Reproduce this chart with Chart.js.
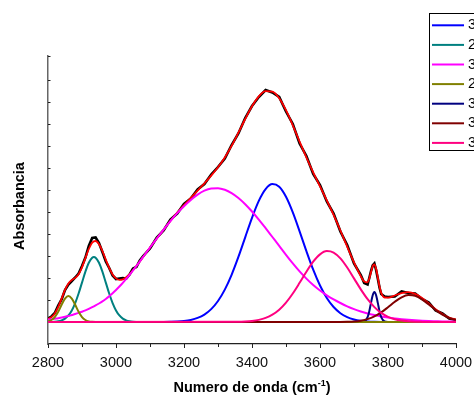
<!DOCTYPE html>
<html>
<head>
<meta charset="utf-8">
<script src="https://cdn.jsdelivr.net/npm/chart.js@4.4.0/dist/chart.umd.min.js"></script>
<style>
  html, body { margin: 0; padding: 0; background: #fff; }
  #wrap { width: 474px; height: 396px; position: relative; }
</style>
</head>
<body>
<div id="wrap"><canvas id="myChart" width="474" height="396"></canvas></div>
<script>
// measured spectrum + fit share one wavenumber grid (cm-1)
const wnFit = [2800, 2810, 2820, 2830, 2840, 2850, 2860, 2870, 2880, 2890, 2900, 2910, 2920, 2930, 2940, 2950, 2960, 2970, 2980, 2990, 3000, 3010, 3020, 3030, 3040, 3050, 3060, 3070, 3080,
  3100, 3120, 3140, 3160, 3180, 3200, 3220, 3240, 3260, 3280, 3300, 3320, 3340, 3360, 3380, 3400, 3420, 3440, 3460, 3480, 3500, 3520, 3540, 3560, 3580, 3600, 3620, 3640, 3660, 3680, 3700, 3720,
  3730, 3740, 3745, 3750, 3755, 3760, 3765, 3770, 3775, 3780, 3790, 3800,
  3820, 3840, 3860, 3880, 3900, 3920, 3940, 3960, 3980, 4000];
const measured = [3.5, 5.5, 9.0, 16.5, 22.5, 32.0, 37.5, 41.0, 44.5, 48.5, 56.0, 64.5, 76.0, 84.0, 84.5, 79.0, 70.0, 60.5, 54.0, 46.5, 43.0, 43.5, 44.0, 43.5, 47.5, 53.5, 55.0, 61.5, 66.0,
  73.5, 84.5, 91.5, 102.5, 108.5, 118.0, 123.5, 132.5, 138.0, 147.5, 155.0, 163.5, 177.0, 188.5, 204.0, 216.0, 225.0, 232.0, 229.5, 225.0, 210.5, 198.0, 178.5, 166.0, 148.0, 137.0, 120.5, 108.5, 90.5, 77.0, 58.5, 47.0,
  39.0, 37.5, 44.0, 51.0, 56.5, 58.5, 52.0, 43.5, 34.5, 28.0, 25.5, 25.0,
  25.5, 30.5, 29.0, 28.5, 23.0, 19.5, 11.5, 8.5, 3.5, 2.0];
const fitSum = [3.1, 4.9, 8.6, 14.8, 23.3, 32.1, 38.6, 42.0, 44.1, 47.8, 54.7, 63.9, 73.0, 79.3, 81.0, 77.8, 71.0, 62.4, 54.1, 47.6, 43.6, 42.1, 42.6, 44.7, 47.9, 51.8, 56.0, 60.5, 65.2,
  74.5, 83.5, 92.3, 101.1, 109.3, 116.8, 124.1, 131.4, 138.7, 146.4, 154.8, 164.6, 176.1, 189.3, 203.0, 215.7, 225.6, 230.8, 230.3, 223.8, 211.8, 196.7, 180.4, 164.5, 149.6, 135.6, 121.7, 107.1, 91.5, 75.3, 59.6, 45.8,
  40.4, 39.7, 43.5, 49.9, 55.9, 57.6, 53.2, 44.7, 35.6, 29.2, 24.5, 24.4,
  26.5, 28.9, 29.8, 28.1, 24.1, 18.5, 12.8, 8.0, 4.5, 2.4];

// fitted bands
const wn3463 = [2800, 3140, 3160, 3180, 3200, 3220, 3240, 3260, 3280, 3300, 3320, 3340, 3360, 3380, 3400, 3420, 3440, 3460, 3480, 3500, 3520, 3540, 3560, 3580, 3600, 3620, 3640, 3660, 3680, 3700, 3720, 3740, 3760, 3780, 3800, 4000];
const band3463 = [0, 0.05, 0.2, 0.47, 1.03, 2.10, 4.07, 7.44, 12.85, 20.99, 32.41, 47.24, 65.07, 84.70, 104.2, 121.1, 132.9, 137.9, 135.2, 125.2, 109.6, 90.66, 70.85, 52.32, 36.50, 24.05, 14.99, 8.82, 4.90, 2.58, 1.28, 0.60, 0.27, 0.11, 0.04, 0];

const wn2935 = [2800, 2810, 2820, 2830, 2840, 2850, 2860, 2870, 2880, 2890, 2900, 2910, 2920, 2930, 2935, 2940, 2950, 2960, 2970, 2980, 2990, 3000, 3010, 3020, 3030, 3040, 3050, 3060, 3070, 3080, 4000];
const band2935 = [0.04, 0.11, 0.29, 0.72, 1.63, 3.40, 6.55, 11.59, 18.91, 28.44, 39.42, 50.36, 59.30, 64.34, 65.0, 64.34, 59.30, 50.36, 39.42, 28.44, 18.91, 11.59, 6.55, 3.40, 1.63, 0.72, 0.29, 0.11, 0.04, 0.01, 0];

const wn3291 = [2800, 2810, 2820, 2830, 2840, 2850, 2860, 2870, 2880, 2890, 2900, 2910, 2920, 2930, 2940, 2950, 2960, 2970, 2980, 2990, 3000, 3010, 3020, 3030, 3040, 3050, 3060, 3070, 3080,
  3100, 3120, 3140, 3160, 3180, 3200, 3220, 3240, 3260, 3280, 3300, 3320, 3340, 3360, 3380, 3400, 3420, 3440, 3460, 3480, 3500, 3520, 3540, 3560, 3580, 3600, 3620, 3640, 3660, 3680, 3700,
  3720, 3740, 3760, 3780, 3800, 3820, 3840, 3860, 3880, 3900, 3920, 3940, 3960, 3980, 4000];
const band3291 = [2.4, 2.8, 3.3, 3.8, 4.5, 5.2, 6.0, 7.0, 8.0, 9.1, 10.3, 11.6, 13.1, 14.8, 16.6, 18.5, 20.6, 23.0, 25.7, 28.7, 32.0, 35.5, 39.2, 43.1, 47.2, 51.5, 55.9, 60.5, 65.2,
  74.5, 83.5, 92.3, 100.9, 108.8, 115.8, 122.0, 127.3, 131.3, 133.5, 133.8, 132.2, 128.9, 124.0, 117.8, 110.5, 102.4, 93.8, 85.0, 76.2, 67.2, 58.6, 50.6, 43.4, 37.0, 31.5, 26.7, 22.6, 19.0, 15.7, 12.9,
  10.5, 8.5, 6.9, 5.5, 4.4, 3.5, 2.8, 2.2, 1.7, 1.3, 1.0, 0.8, 0.6, 0.5, 0.4];

const wn2860 = [2800, 2810, 2820, 2830, 2840, 2850, 2860, 2870, 2880, 2890, 2900, 2910, 2920, 2930, 2940, 4000];
const band2860 = [0.63, 1.97, 4.98, 10.26, 17.20, 23.45, 26.0, 23.45, 17.20, 10.26, 4.98, 1.97, 0.63, 0.16, 0.03, 0];

const wn3760 = [2800, 3720, 3730, 3740, 3745, 3750, 3755, 3760, 3765, 3770, 3775, 3780, 3790, 3800, 4000];
const band3760 = [0, 0.02, 0.51, 4.89, 10.8, 19.1, 26.8, 30.0, 26.8, 19.1, 10.8, 4.89, 0.51, 0.02, 0];

const wn3865 = [2800, 3640, 3660, 3680, 3700, 3720, 3740, 3760, 3780, 3800, 3820, 3840, 3860, 3880, 3900, 3920, 3940, 3960, 3980, 4000];
const band3865 = [0, 0.02, 0.06, 0.20, 0.54, 1.32, 2.86, 5.54, 9.56, 14.72, 20.19, 24.68, 26.90, 26.14, 22.64, 17.49, 12.04, 7.39, 4.04, 1.97];

const wn3624 = [2800, 3360, 3380, 3400, 3420, 3440, 3460, 3480, 3500, 3520, 3540, 3560, 3580, 3600, 3620, 3640, 3660, 3680, 3700, 3720, 3740, 3760, 3780, 3800, 3820, 3840, 3860, 3880, 3900, 3920, 4000];
const band3624 = [0, 0.2, 0.47, 1.03, 2.13, 4.08, 7.35, 12.35, 19.41, 28.52, 39.16, 50.26, 60.30, 67.64, 70.9, 69.48, 63.65, 54.50, 43.62, 32.64, 22.83, 14.92, 9.12, 5.21, 2.78, 1.39, 0.65, 0.28, 0.12, 0.05, 0];

const FONT = '"Liberation Sans", Arial, sans-serif';
Chart.defaults.font.family = FONT;

function pts(xs, ys) {
  return xs.map((x, i) => ({ x: x, y: ys[i] }));
}

function band(label, xs, ys, color, order) {
  return {
    label: label,
    data: pts(xs, ys),
    borderColor: color,
    borderWidth: 2,
    pointRadius: 0,
    cubicInterpolationMode: 'monotone',
    fill: false,
    order: order,
    isBand: true,
  };
}

// axis ticks, titles and the boxed legend (cut at the right edge)
const decorations = {
  id: 'decorations',
  afterDraw(chart) {
    const { ctx, chartArea: a, scales: { x, y } } = chart;
    ctx.save();

    ctx.strokeStyle = '#222';
    ctx.lineWidth = 1;
    ctx.beginPath();
    x.ticks.forEach((t) => {
      const px = Math.round(x.getPixelForValue(t.value)) + 0.5;
      const len = t.value % 200 === 0 ? 4 : 3;
      ctx.moveTo(px, a.bottom);
      ctx.lineTo(px, a.bottom + len);
    });
    y.ticks.forEach((t) => {
      if (t.value <= 0 || t.value > y.max) return;
      const py = Math.round(y.getPixelForValue(t.value)) + 0.5;
      ctx.moveTo(a.left, py);
      ctx.lineTo(a.left + 2.5, py);
    });
    ctx.stroke();

    // x title with superscript
    ctx.fillStyle = '#000';
    const big = 'bold 14.5px ' + FONT;
    const small = 'bold 9px ' + FONT;
    const t1 = 'Numero de onda (cm', t2 = '-1', t3 = ')';
    ctx.font = big;
    const w1 = ctx.measureText(t1).width, w3 = ctx.measureText(t3).width;
    ctx.font = small;
    const w2 = ctx.measureText(t2).width;
    let sx = (a.left + a.right) / 2 - (w1 + w2 + w3) / 2;
    ctx.textBaseline = 'alphabetic';
    ctx.textAlign = 'left';
    ctx.font = big;
    ctx.fillText(t1, sx, 392);
    ctx.font = small;
    ctx.fillText(t2, sx + w1, 386);
    ctx.font = big;
    ctx.fillText(t3, sx + w1 + w2, 392);

    // y title
    ctx.save();
    ctx.translate(20, 206);
    ctx.rotate(-Math.PI / 2);
    ctx.textAlign = 'center';
    ctx.textBaseline = 'middle';
    ctx.font = big;
    ctx.fillText('Absorbancia', 0, 0);
    ctx.restore();

    // legend
    const bands = chart.data.datasets.filter((d) => d.isBand);
    ctx.fillStyle = '#fff';
    ctx.fillRect(429.5, 13.5, 60, 137);
    ctx.strokeStyle = '#000';
    ctx.lineWidth = 1;
    ctx.strokeRect(429.5, 13.5, 60, 137);
    ctx.font = '14.5px ' + FONT;
    ctx.textBaseline = 'middle';
    bands.forEach((d, i) => {
      const ly = 25.3 + i * 19.6;
      ctx.strokeStyle = d.borderColor;
      ctx.lineWidth = 2;
      ctx.beginPath();
      ctx.moveTo(432, ly);
      ctx.lineTo(464, ly);
      ctx.stroke();
      ctx.fillStyle = '#000';
      ctx.fillText(d.label, 468, ly);
    });

    ctx.restore();
  },
};

const ctx = document.getElementById('myChart').getContext('2d');
const myChart = new Chart(ctx, {
  type: 'line',
  data: {
    datasets: [
      { label: 'Datos', data: pts(wnFit, measured), borderColor: '#000', borderWidth: 2.6, pointRadius: 0, tension: 0, order: 9 },
      { label: 'Ajuste', data: pts(wnFit, fitSum), borderColor: '#ff0000', borderWidth: 1.8, pointRadius: 0, cubicInterpolationMode: 'monotone', order: 8 },
      band('3463', wn3463, band3463, '#0000ff', 7),
      band('2935', wn2935, band2935, '#008080', 6),
      band('3291', wn3291, band3291, '#ff00ff', 5),
      band('2860', wn2860, band2860, '#808000', 3),
      band('3760', wn3760, band3760, '#000080', 4),
      band('3865', wn3865, band3865, '#800000', 2),
      band('3624', wn3624, band3624, '#ff0080', 1),
    ],
  },
  options: {
    responsive: false,
    animation: false,
    layout: { padding: { left: 48, right: 18, top: 56, bottom: 0 } },
    plugins: { legend: { display: false }, tooltip: { enabled: false } },
    scales: {
      x: {
        type: 'linear',
        position: 'bottom',
        min: 2800,
        max: 4000,
        grid: { display: false, drawTicks: false },
        border: { display: true, color: '#222', width: 1.3 },
        ticks: {
          stepSize: 100,
          autoSkip: false,
          maxRotation: 0,
          padding: 10,
          color: '#111',
          font: { size: 14.5 },
          callback: (v) => (v % 200 === 0 ? String(v) : ''),
        },
        afterFit: (s) => { s.height = 52; s.paddingLeft = 0; s.paddingRight = 0; },
      },
      y: {
        type: 'linear',
        min: -22,
        max: 266,
        grid: { display: false, drawTicks: false },
        border: { display: true, color: '#666', width: 1.5 },
        ticks: { display: false, stepSize: 22 },
        afterFit: (s) => { s.width = 0; },
      },
    },
  },
  plugins: [decorations],
});
</script>
</body>
</html>
